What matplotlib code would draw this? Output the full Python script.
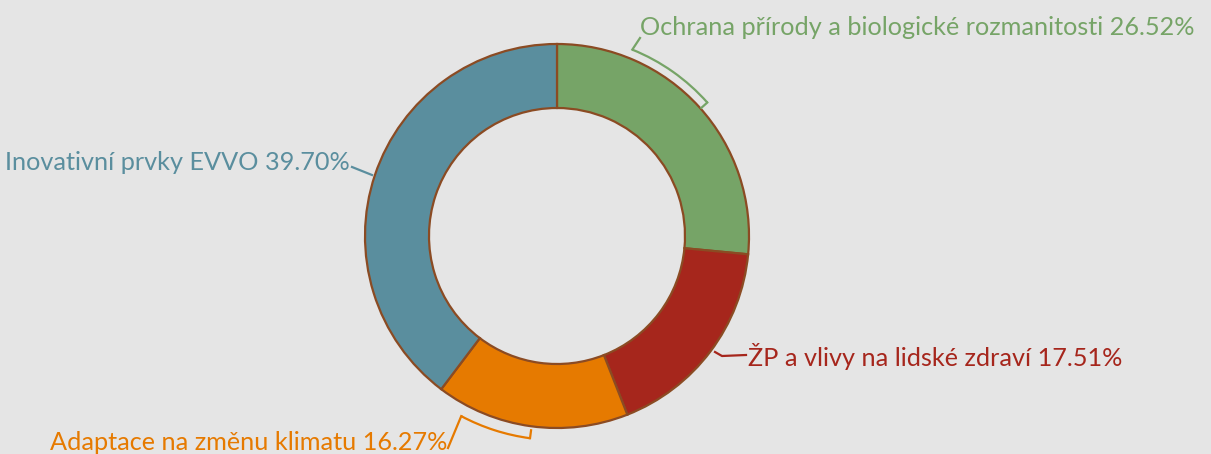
import numpy as np
import matplotlib
matplotlib.use('Agg')
import matplotlib.pyplot as plt
from matplotlib.patches import Arc

# data
labels = ['Ochrana přírody a biologické rozmanitosti', 'ŽP a vlivy na lidské zdraví',
          'Adaptace na změnu klimatu', 'Inovativní prvky EVVO']
shares = [26.52, 17.51, 16.27, 39.70]
colors = ['#76a467', '#a6261c', '#e67a00', '#5a8e9e']

plt.rcParams['font.family'] = ['Lato', 'DejaVu Sans']
FS = 18.2

W, H = 1211, 454
fig = plt.figure(figsize=(W / 100, H / 100), dpi=100)
fig.patch.set_facecolor('#e5e5e5')
ax = fig.add_axes([0, 0, 1, 1])
ax.set_facecolor('#e5e5e5')

cx, cy, R = 557, H - 236, 192
ax.pie(shares, colors=colors, startangle=90, counterclock=False,
       center=(cx, cy), radius=R,
       wedgeprops=dict(width=64, edgecolor='#8b4b23', linewidth=1.6))
ax.set_xlim(0, W)
ax.set_ylim(0, H)
ax.set_aspect('equal')
ax.axis('off')


def polar(r, deg):
    a = np.radians(deg)
    return cx + r * np.cos(a), cy + r * np.sin(a)


def bracket(a_lead, a_end, col, r=201, tick=8):
    # arc outside the ring, inward tick at the far end
    ax.add_patch(Arc((cx, cy), 2 * r, 2 * r, theta1=min(a_lead, a_end),
                     theta2=max(a_lead, a_end), color=col, lw=1.6))
    p0, p1 = polar(r, a_end), polar(r - tick, a_end)
    ax.plot([p0[0], p1[0]], [p0[1], p1[1]], color=col, lw=1.6)
    return polar(r, a_lead)


# green bracket and leader
p = bracket(68, 41.6, colors[0])
ax.plot([p[0], 640], [p[1], H - 38], color=colors[0], lw=1.6)
ax.text(640, H - 35, f'{labels[0]} {shares[0]:.2f}%', color=colors[0],
        fontsize=FS, ha='left', va='baseline')

# red leader
ax.plot([715, 722, 746], [H - 352, H - 356, H - 355], color=colors[1], lw=1.6)
ax.text(748, H - 366, f'{labels[1]} {shares[1]:.2f}%', color=colors[1],
        fontsize=FS, ha='left', va='baseline')

# orange bracket and leader
p = bracket(-118, -97.6, colors[2], r=204)
ax.plot([p[0], 448], [p[1], H - 448], color=colors[2], lw=1.6)
ax.text(447, H - 450, f'{labels[2]} {shares[2]:.2f}%', color=colors[2],
        fontsize=FS, ha='right', va='baseline')

# blue leader
ax.plot([372, 352], [H - 175, H - 167], color=colors[3], lw=1.6)
ax.text(350, H - 170, f'{labels[3]} {shares[3]:.2f}%', color=colors[3],
        fontsize=FS, ha='right', va='baseline')

fig.savefig('out.png', dpi=100, facecolor=fig.get_facecolor())
